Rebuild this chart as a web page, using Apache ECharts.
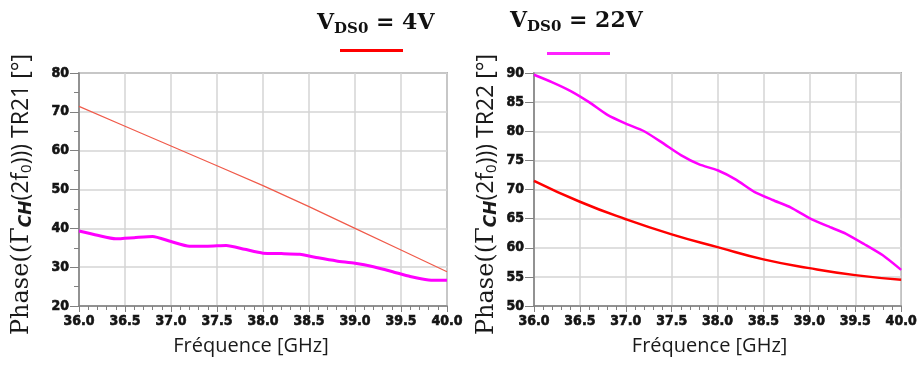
<!DOCTYPE html>
<html>
<head>
<meta charset="utf-8">
<script src="https://cdn.jsdelivr.net/npm/echarts@6/dist/echarts.min.js"></script>
<style>
html,body{margin:0;padding:0;background:#fff;}
#c{width:920px;height:365px;}
</style>
</head>
<body>
<div id="c"></div>
<script>
// ---- data ----
var seriesNames = ['4V', '22V'];
var xTicks = [36.0, 36.5, 37.0, 37.5, 38.0, 38.5, 39.0, 39.5, 40.0];

// Left plot (TR21)
var tr21FreqRed = [36.0, 36.5, 37.0, 37.5, 38.0, 38.5, 39.0, 39.5, 40.0];
var tr21Red = [71.4, 66.3, 61.2, 56.1, 51.0, 45.6, 40.0, 34.4, 28.8];
var tr21FreqMag = [36.0, 36.2, 36.4, 36.6, 36.8, 37.0, 37.2, 37.4, 37.6, 37.8, 38.0, 38.2, 38.4, 38.6, 38.8, 39.0, 39.2, 39.4, 39.6, 39.8, 40.0];
var tr21Mag = [39.3, 38.2, 37.3, 37.6, 37.9, 36.6, 35.4, 35.4, 35.6, 34.6, 33.6, 33.5, 33.3, 32.4, 31.6, 31.0, 30.1, 28.9, 27.6, 26.7, 26.6];

// Right plot (TR22)
var tr22FreqRed = [36.0, 36.5, 37.0, 37.5, 38.0, 38.5, 39.0, 39.5, 40.0];
var tr22Red = [71.5, 67.9, 64.9, 62.3, 60.1, 58.0, 56.5, 55.3, 54.5];
var tr22FreqMag = [36.0, 36.2, 36.4, 36.6, 36.8, 37.0, 37.2, 37.4, 37.6, 37.8, 38.0, 38.2, 38.4, 38.6, 38.8, 39.0, 39.2, 39.4, 39.6, 39.8, 40.0];
var tr22Mag = [89.7, 88.4, 86.9, 85.0, 82.8, 81.3, 80.0, 78.0, 75.9, 74.3, 73.3, 71.7, 69.6, 68.2, 66.9, 65.1, 63.7, 62.4, 60.6, 58.7, 56.2];

function pairs(xs, ys) { return xs.map(function (x, i) { return [x, ys[i]]; }); }

var AXIS = '#808080', GRIDC = '#d4d4d4', TXT = '#1a1a1a';
var tickFont = { color: '#141414', fontFamily: 'DejaVu Sans Condensed', fontWeight: 'bold', fontSize: 14,
  textBorderColor: '#141414', textBorderWidth: 0.6 };

function xAxisCfg(idx, offsetX) {
  return {
    type: 'value', gridIndex: idx, min: 36, max: 40, interval: 0.5,
    axisLine: { lineStyle: { color: AXIS, width: 1.5 } },
    axisTick: { show: true, length: 6, lineStyle: { color: AXIS, width: 1 } },
    minorTick: { show: true, splitNumber: 5, length: 4, lineStyle: { color: AXIS, width: 1 } },
    splitLine: { show: true, lineStyle: { color: GRIDC, width: 1.5 } },
    axisLabel: Object.assign({ margin: 8, formatter: function (v) { return v.toFixed(1); } }, tickFont),
    name: 'Fréquence [GHz]', nameLocation: 'middle', nameGap: 30,
    nameTextStyle: { fontFamily: 'Open Sans', fontSize: 20, color: TXT, padding: [0, offsetX, 0, 0] }
  };
}
function yTitle(tr) {
  return '{a|Phase((Γ}{b|CH}{c|(2f}{d|0}{c|))) ' + tr + ' [°]}';
}
var yRich = {
  a: { fontFamily: 'DejaVu Serif', fontSize: 24, color: TXT },
  b: { fontFamily: 'DejaVu Sans', fontStyle: 'italic', fontWeight: 'bold', fontSize: 17, color: TXT, padding: [10, 0, 0, 0] },
  c: { fontFamily: 'Open Sans', fontSize: 23, color: TXT },
  d: { fontFamily: 'Open Sans', fontSize: 15, color: TXT, padding: [10, 0, 0, 0] }
};
function yAxisCfg(idx, min, max, interval, minor, tr, gap) {
  return {
    type: 'value', gridIndex: idx, min: min, max: max, interval: interval,
    axisLine: { show: true, lineStyle: { color: AXIS, width: 1.5 } },
    axisTick: { show: true, length: 9, lineStyle: { color: AXIS, width: 1 } },
    minorTick: { show: minor, splitNumber: 2, length: 5, lineStyle: { color: AXIS, width: 1 } },
    splitLine: { show: true, lineStyle: { color: GRIDC, width: 1.5 } },
    axisLabel: Object.assign({ margin: 10 }, tickFont),
    name: yTitle(tr), nameLocation: 'middle', nameRotate: 90, nameGap: gap,
    nameTextStyle: { rich: yRich, padding: [0, 10, 0, 0] }
  };
}
var legRich = {
  v: { fontFamily: 'DejaVu Serif', fontWeight: 'bold', fontSize: 22, color: '#111', lineHeight: 28 },
  s: { fontFamily: 'DejaVu Serif', fontWeight: 'bold', fontSize: 15, color: '#111', padding: [12, 0, 0, 0] }
};

var chart = echarts.init(document.getElementById('c'), null, { renderer: 'canvas' });
chart.setOption({
  animation: false,
  backgroundColor: '#fff',
  title: [
    { left: 312, top: 4, text: '{v|V}{s|DS0}{v| = 4V}', textStyle: { rich: legRich } },
    { left: 505, top: 2, text: '{v|V}{s|DS0}{v| = 22V}', textStyle: { rich: legRich } }
  ],
  legend: [
    { left: 335, top: 44, icon: 'rect', itemWidth: 63, itemHeight: 3, formatter: function () { return ''; },
      data: [{ name: seriesNames[0], itemStyle: { color: '#ff0000' } }], selectedMode: false },
    { left: 542, top: 47, icon: 'rect', itemWidth: 63, itemHeight: 3, formatter: function () { return ''; },
      data: [{ name: seriesNames[1], itemStyle: { color: '#ff22ff' } }], selectedMode: false }
  ],
  grid: [
    { left: 79, top: 73, width: 368, height: 233, show: true, borderColor: AXIS, borderWidth: 1.5, backgroundColor: '#fff' },
    { left: 534, top: 73, width: 369, height: 233, show: true, borderColor: AXIS, borderWidth: 1.5, backgroundColor: '#fff' }
  ],
  xAxis: [xAxisCfg(0, 24), xAxisCfg(1, 16)],
  yAxis: [yAxisCfg(0, 20, 80, 10, true, 'TR21', 44), yAxisCfg(1, 50, 90, 5, false, 'TR22', 34)],
  series: [
    { name: seriesNames[0], type: 'line', xAxisIndex: 0, yAxisIndex: 0, data: pairs(tr21FreqRed, tr21Red),
      showSymbol: false, lineStyle: { color: '#f05a4a', width: 1.2 }, itemStyle: { color: '#ff0000' } },
    { name: seriesNames[1], type: 'line', xAxisIndex: 0, yAxisIndex: 0, data: pairs(tr21FreqMag, tr21Mag),
      showSymbol: false, smooth: 0.2, lineStyle: { color: '#ff00ff', width: 3 }, itemStyle: { color: '#ff00ff' } },
    { name: seriesNames[0], type: 'line', xAxisIndex: 1, yAxisIndex: 1, data: pairs(tr22FreqRed, tr22Red),
      showSymbol: false, smooth: true, lineStyle: { color: '#ff0000', width: 2.5 }, itemStyle: { color: '#ff0000' } },
    { name: seriesNames[1], type: 'line', xAxisIndex: 1, yAxisIndex: 1, data: pairs(tr22FreqMag, tr22Mag),
      showSymbol: false, smooth: 0.2, lineStyle: { color: '#ff00ff', width: 2.5 }, itemStyle: { color: '#ff00ff' } }
  ]
});
</script>
</body>
</html>
